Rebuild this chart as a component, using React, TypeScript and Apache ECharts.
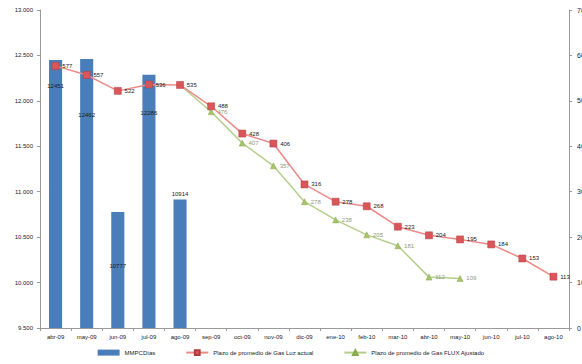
import React, { useEffect, useRef } from "react";
import * as echarts from "echarts";

const categories = ["abr-09","may-09","jun-09","jul-09","ago-09","sep-09","oct-09","nov-09","dic-09","ene-10","feb-10","mar-10","abr-10","may-10","jun-10","jul-10","ago-10"];
const barValues = [12451, 12462, 10777, 12286, 10914];
const redValues = [577, 557, 522, 536, 535, 488, 428, 406, 316, 278, 268, 223, 204, 195, 184, 153, 113];
const greenValues: (number | null)[] = [null, null, null, null, 535, 476, 407, 357, 278, 238, 205, 181, 112, 109, null, null, null];
const legendNames = ["MMPCDías", "Plazo de promedio de Gas Luz actual", "Plazo de promedio de Gas FLUX Ajustado"];
// label placement tweaks for the bar labels (position, offset y)
const barLabelPlacement: [string, number][] = [["insideTop", 20], ["insideTop", 50], ["insideTop", 48], ["insideTop", 32], ["top", 0]];

const fmtThousands = (v: number) => {
  const s = String(Math.round(v));
  return s.replace(/\B(?=(\d{3})+(?!\d))/g, ".");
};

export default function App() {
  const ref = useRef<HTMLDivElement>(null);
  useEffect(() => {
    if (!ref.current) return;
    const chart = echarts.init(ref.current, undefined, { renderer: "svg" });
    const font = "Liberation Sans, Arial, sans-serif";
    chart.setOption({
      animation: false,
      backgroundColor: "#ffffff",
      textStyle: { fontFamily: font },
      grid: { left: 40, right: 13, top: 10, bottom: 36, containLabel: false, outerBoundsMode: "none" },
      legend: {
        bottom: 3,
        left: "center",
        itemWidth: 22,
        itemHeight: 6,
        itemGap: 30,
        textStyle: { fontSize: 6, color: "#222" },
        data: [
          { name: legendNames[0], icon: "rect", itemStyle: { color: "#4a7ebb" } },
          { name: legendNames[1] },
          { name: legendNames[2] },
        ],
      },
      xAxis: {
        type: "category",
        data: categories,
        boundaryGap: true,
        axisLine: { lineStyle: { color: "#9a9a9a" } },
        axisTick: { show: true, alignWithLabel: false, length: 3, lineStyle: { color: "#9a9a9a" } },
        axisLabel: { fontSize: 6, color: "#222", margin: 6, interval: 0 },
        splitLine: { show: false },
      },
      yAxis: [
        {
          type: "value",
          min: 9500,
          max: 13000,
          interval: 500,
          axisLine: { show: true, lineStyle: { color: "#9a9a9a" } },
          axisTick: { show: true, length: 3, lineStyle: { color: "#9a9a9a" } },
          axisLabel: { fontSize: 6, color: "#222", margin: 7, formatter: (v: number) => fmtThousands(v) },
          splitLine: { show: false },
        },
        {
          type: "value",
          min: 0,
          max: 700,
          interval: 100,
          position: "right",
          axisLine: { show: true, lineStyle: { color: "#9a9a9a" } },
          axisTick: { show: true, length: 3, lineStyle: { color: "#9a9a9a" } },
          axisLabel: { fontSize: 7, color: "#222", margin: 8 },
          splitLine: { show: false },
        },
      ],
      series: [
        {
          name: legendNames[0],
          type: "bar",
          yAxisIndex: 0,
          barWidth: "42%",
          itemStyle: { color: "#4a7ebb" },
          data: barValues.map((v, i) => ({
            value: v,
            label: {
              show: true,
              position: barLabelPlacement[i][0],
              offset: [0, barLabelPlacement[i][1]],
              fontSize: 6,
              color: "#1a1a1a",
              distance: 3,
            },
          })),
          z: 1,
        },
        {
          name: legendNames[2],
          type: "line",
          yAxisIndex: 1,
          data: greenValues.map((v, i) => ({
            value: v,
            label: { show: i > 4 },
            symbolSize: i === 4 ? 0 : 6,
          })),
          connectNulls: false,
          symbol: "triangle",
          lineStyle: { color: "#b5cf8a", width: 1.5 },
          itemStyle: { color: "#a6c46a", borderColor: "#8aa84e", borderWidth: 0.5 },
          label: { show: true, position: "right", fontSize: 6, color: "#8d9a78", distance: 3 },
          z: 3,
        },
        {
          name: legendNames[1],
          type: "line",
          yAxisIndex: 1,
          data: redValues,
          symbol: "rect",
          symbolSize: 7,
          lineStyle: { color: "#ec8a88", width: 1.5 },
          itemStyle: { color: "#d9575a", borderColor: "#b03a3e", borderWidth: 0.5 },
          label: { show: true, position: "right", fontSize: 6, color: "#222", distance: 3 },
          z: 4,
        },
      ],
    });
    return () => chart.dispose();
  }, []);
  return (
    <div
      ref={ref}
      style={{ position: "fixed", left: 0, top: 0, width: 582, height: 364, background: "#fff" }}
    />
  );
}
